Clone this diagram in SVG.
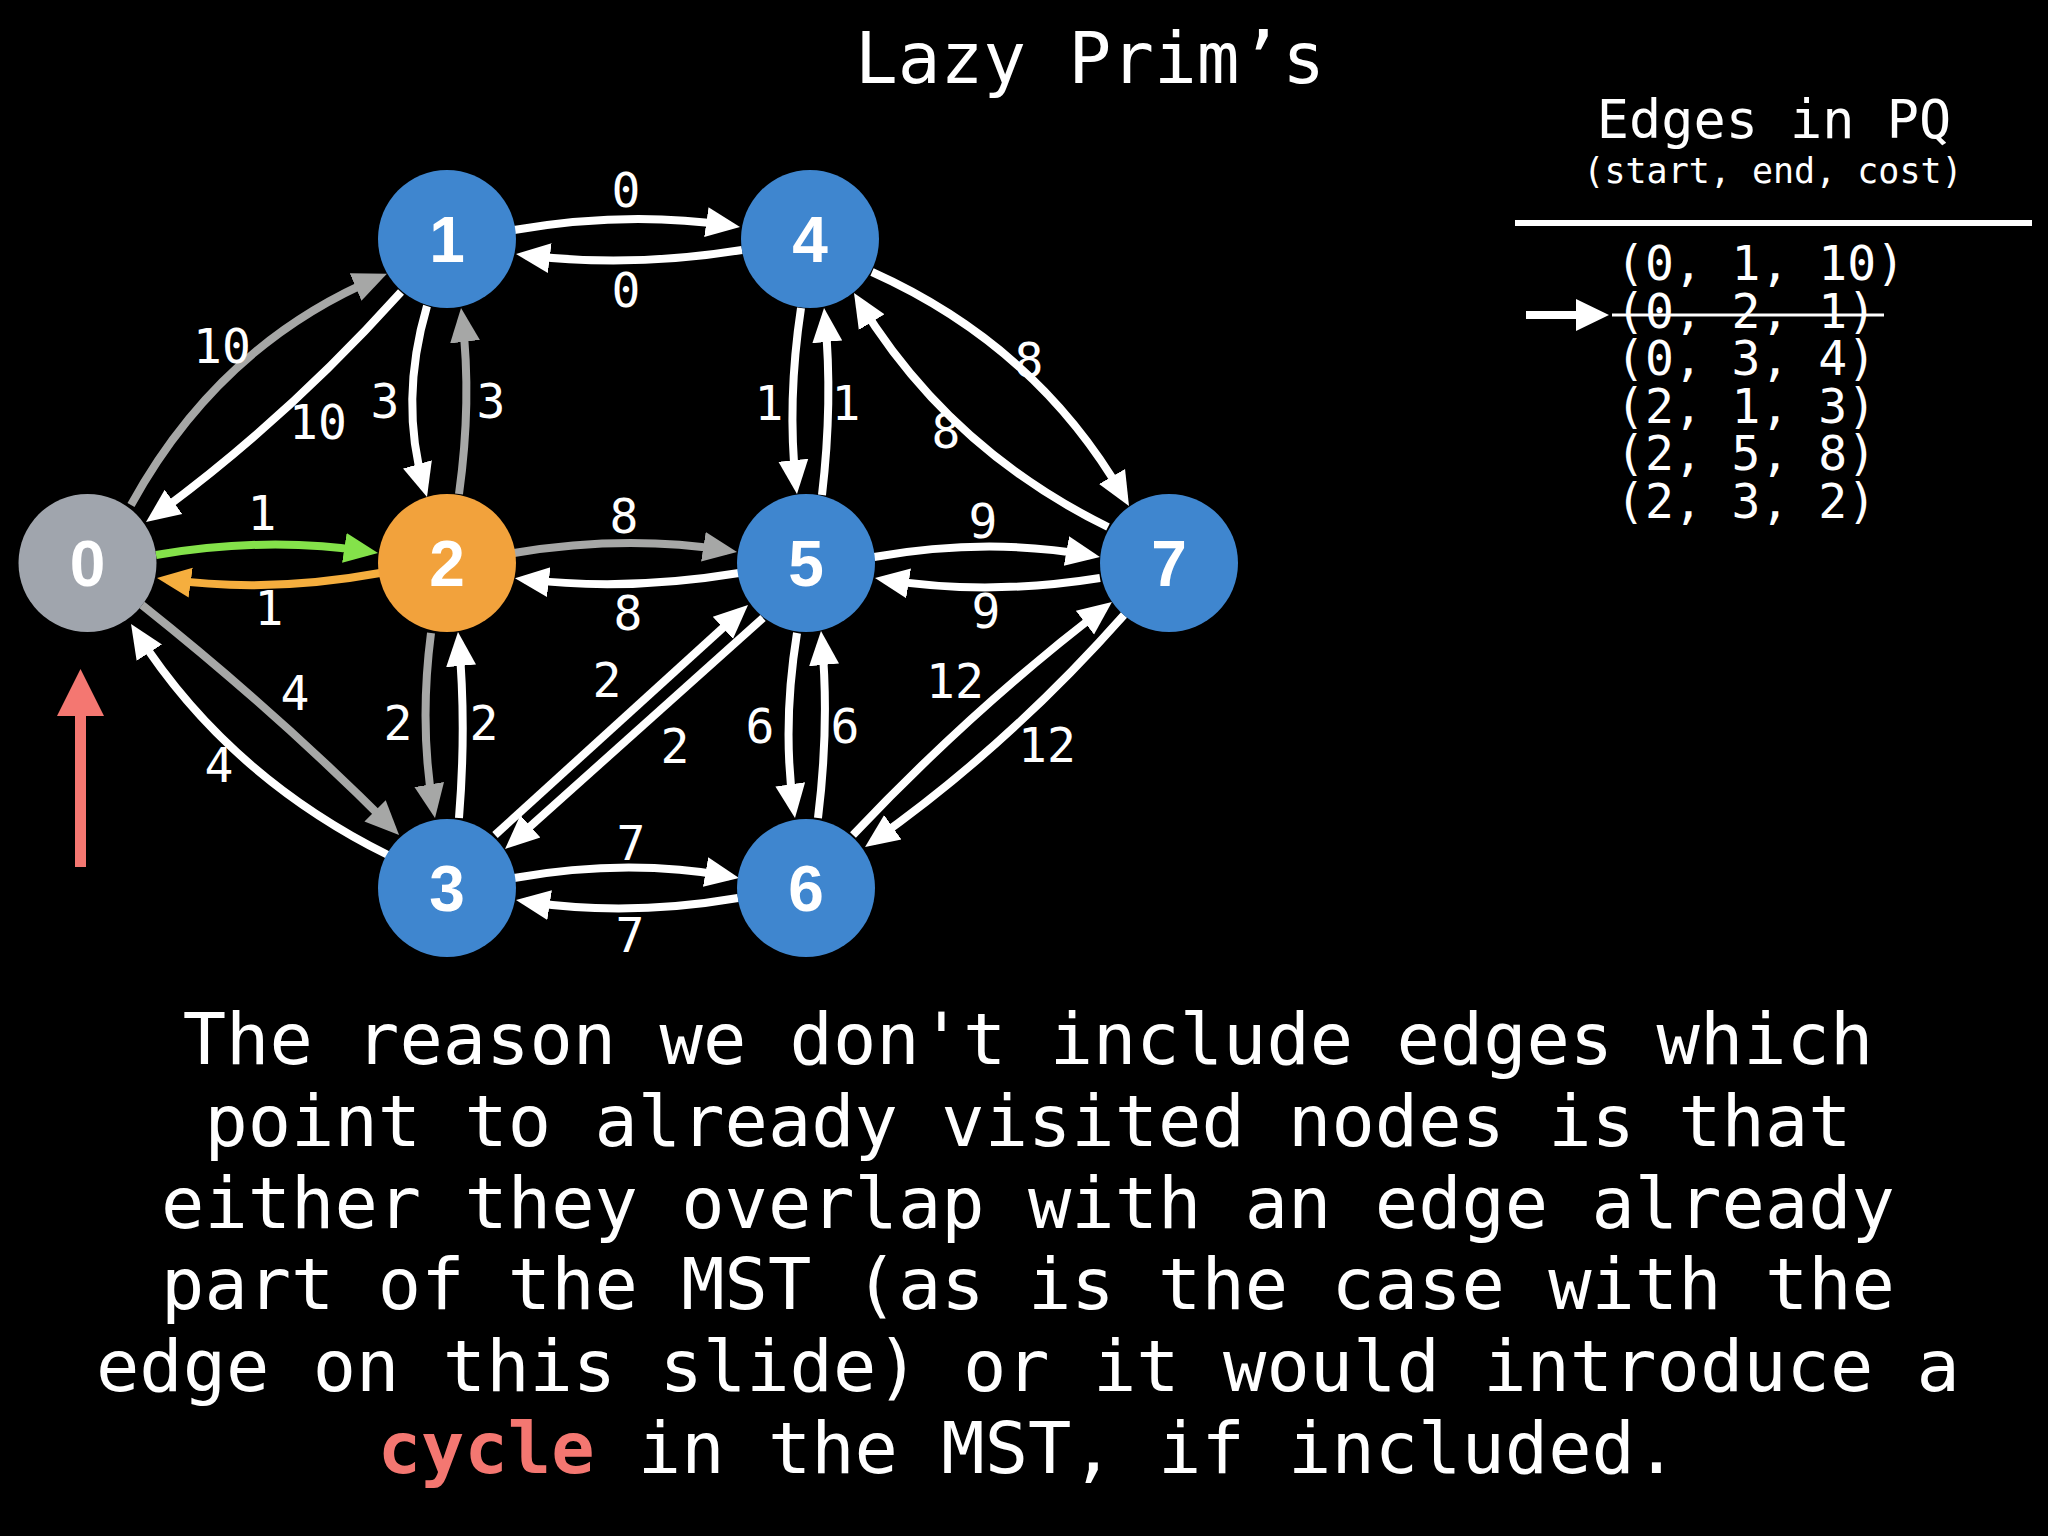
<svg xmlns="http://www.w3.org/2000/svg" width="2048" height="1536" viewBox="0 0 2048 1536">
<defs>
<style>
.e{fill:none;stroke-width:8}
.w{stroke:#FFFFFF}
.g{stroke:#A6A7A6}
.gr{stroke:#84E24A}
.or{stroke:#F5AE3E}
.lbl{font-family:"DejaVu Sans Mono","Liberation Mono",monospace;font-size:48px;fill:#FFFFFF;text-anchor:middle}
.nl{font-family:"Liberation Sans",Arial,sans-serif;font-weight:bold;font-size:64px;fill:#FFFFFF;text-anchor:middle}
.mono{font-family:"DejaVu Sans Mono","Liberation Mono",monospace;fill:#FFFFFF}
</style>
<marker id="aw" markerUnits="userSpaceOnUse" markerWidth="40" markerHeight="36" viewBox="0 0 40 36" refX="24" refY="18" orient="auto"><path d="M0,3 L34,18 L0,33 Z" fill="#FFFFFF"/></marker>
<marker id="ag" markerUnits="userSpaceOnUse" markerWidth="40" markerHeight="36" viewBox="0 0 40 36" refX="24" refY="18" orient="auto"><path d="M0,3 L34,18 L0,33 Z" fill="#A6A7A6"/></marker>
<marker id="agr" markerUnits="userSpaceOnUse" markerWidth="40" markerHeight="36" viewBox="0 0 40 36" refX="24" refY="18" orient="auto"><path d="M0,3 L34,18 L0,33 Z" fill="#84E24A"/></marker>
<marker id="aor" markerUnits="userSpaceOnUse" markerWidth="40" markerHeight="36" viewBox="0 0 40 36" refX="24" refY="18" orient="auto"><path d="M0,3 L34,18 L0,33 Z" fill="#F5AE3E"/></marker>
</defs>
<rect x="0" y="0" width="2048" height="1536" fill="#000000"/>

<text class="mono" x="1090" y="83" font-size="71" text-anchor="middle">Lazy Prim’s</text>

<g id="connectors">
<path id="e0-1" class="e g" d="M131,505 Q218.8,345 377.7,277.7" marker-end="url(#ag)"/>
<path id="e1-0" class="e w" d="M401,292 Q285.5,420.4 154.1,516.1" marker-end="url(#aw)"/>
<path id="e1-2" class="e w" d="M427,306 Q399,401.5 424.2,487.4" marker-end="url(#aw)"/>
<path id="e2-1" class="e g" d="M459,494 Q472,401 462.2,317.9" marker-end="url(#ag)"/>
<path id="e1-4" class="e w" d="M514,230 Q627,210.5 730.1,225.6" marker-end="url(#aw)"/>
<path id="e4-1" class="e w" d="M742,250 Q629,268 525.9,255.2" marker-end="url(#aw)"/>
<path id="e4-5" class="e w" d="M801,308 Q787,401 795.9,484.1" marker-end="url(#aw)"/>
<path id="e5-4" class="e w" d="M822,495 Q833,401.5 825,318" marker-end="url(#aw)"/>
<path id="e4-7" class="e w" d="M872,272 Q1037.1,346.1 1124,497.3" marker-end="url(#aw)"/>
<path id="e7-4" class="e w" d="M1108,527 Q948.7,448.8 859.2,301.6" marker-end="url(#aw)"/>
<path id="e0-2" class="e gr" d="M156,555 Q267,536 368.1,551.5" marker-end="url(#agr)"/>
<path id="e2-0" class="e or" d="M380,573 Q268.5,593.5 166.9,579.4" marker-end="url(#aor)"/>
<path id="e2-5" class="e g" d="M514,553 Q625.5,534.5 727.1,550.5" marker-end="url(#ag)"/>
<path id="e5-2" class="e w" d="M739,573 Q627,591.5 524.9,579.4" marker-end="url(#aw)"/>
<path id="e5-7" class="e w" d="M874,557 Q987,537 1090.1,555.3" marker-end="url(#aw)"/>
<path id="e7-5" class="e w" d="M1100,578 Q987.5,596 884.9,579.6" marker-end="url(#aw)"/>
<path id="e0-3" class="e g" d="M142,605 Q277.2,712.6 392,827.9" marker-end="url(#ag)"/>
<path id="e3-0" class="e w" d="M388,855 Q227.5,775.3 136.4,632.4" marker-end="url(#aw)"/>
<path id="e2-3" class="e g" d="M431,633 Q419,725.5 433.3,808.2" marker-end="url(#ag)"/>
<path id="e3-2" class="e w" d="M459,818 Q466.5,725 458.9,642" marker-end="url(#aw)"/>
<path id="e3-5" class="e w" d="M495,835 L740.6,611.7" marker-end="url(#aw)"/>
<path id="e5-3" class="e w" d="M763,618 L512.5,842.3" marker-end="url(#aw)"/>
<path id="e5-6" class="e w" d="M797,633 Q782,725.5 793.6,808.1" marker-end="url(#aw)"/>
<path id="e6-5" class="e w" d="M818,818 Q829.5,724.5 821.9,641" marker-end="url(#aw)"/>
<path id="e3-6" class="e w" d="M514,878 Q626.5,858 729.2,876.3" marker-end="url(#aw)"/>
<path id="e6-3" class="e w" d="M738,898 Q627,917 525.9,901.5" marker-end="url(#aw)"/>
<path id="e6-7" class="e w" d="M853,835 Q973.1,708.1 1104,608.1" marker-end="url(#aw)"/>
<path id="e7-6" class="e w" d="M1124,615 Q1007.9,746 873.2,841.2" marker-end="url(#aw)"/>
</g>

<g id="edge-labels">
<text class="lbl" x="222" y="363">10</text>
<text class="lbl" x="318" y="439">10</text>
<text class="lbl" x="385" y="418">3</text>
<text class="lbl" x="491" y="418">3</text>
<text class="lbl" x="626" y="207">0</text>
<text class="lbl" x="626" y="307">0</text>
<text class="lbl" x="769" y="420">1</text>
<text class="lbl" x="846" y="420">1</text>
<text class="lbl" x="1029" y="377">8</text>
<text class="lbl" x="946" y="448">8</text>
<text class="lbl" x="262" y="530">1</text>
<text class="lbl" x="269" y="625">1</text>
<text class="lbl" x="624" y="533">8</text>
<text class="lbl" x="628" y="630">8</text>
<text class="lbl" x="983" y="538">9</text>
<text class="lbl" x="986" y="628">9</text>
<text class="lbl" x="295" y="710">4</text>
<text class="lbl" x="219" y="782">4</text>
<text class="lbl" x="398" y="740">2</text>
<text class="lbl" x="484" y="740">2</text>
<text class="lbl" x="607" y="697">2</text>
<text class="lbl" x="675" y="763">2</text>
<text class="lbl" x="760" y="743">6</text>
<text class="lbl" x="845" y="743">6</text>
<text class="lbl" x="955" y="698">12</text>
<text class="lbl" x="1047" y="762">12</text>
<text class="lbl" x="631" y="860">7</text>
<text class="lbl" x="630" y="952">7</text>
</g>

<g id="node0"><circle cx="87.5" cy="563" r="69" fill="#A0A5AD"/><text class="nl" x="87.5" y="586">0</text></g>
<g id="node1"><circle cx="447" cy="239" r="69" fill="#3F86CF"/><text class="nl" x="447" y="262">1</text></g>
<g id="node2"><circle cx="447" cy="563" r="69" fill="#F2A23C"/><text class="nl" x="447" y="586">2</text></g>
<g id="node3"><circle cx="447" cy="888" r="69" fill="#3F86CF"/><text class="nl" x="447" y="911">3</text></g>
<g id="node4"><circle cx="810" cy="239" r="69" fill="#3F86CF"/><text class="nl" x="810" y="262">4</text></g>
<g id="node5"><circle cx="806" cy="563" r="69" fill="#3F86CF"/><text class="nl" x="806" y="586">5</text></g>
<g id="node6"><circle cx="806" cy="888" r="69" fill="#3F86CF"/><text class="nl" x="806" y="911">6</text></g>
<g id="node7"><circle cx="1169" cy="563" r="69" fill="#3F86CF"/><text class="nl" x="1169" y="586">7</text></g>

<g id="pointer-red">
<rect x="75" y="714" width="11" height="153" fill="#F47771"/>
<polygon points="57,716 104,716 80.5,669" fill="#F47771"/>
</g>

<g id="pq">
<text class="mono" x="1774" y="138" font-size="53.5" text-anchor="middle">Edges in PQ</text>
<text class="mono" x="1773" y="183" font-size="35" text-anchor="middle">(start, end, cost)</text>
<rect x="1515" y="220" width="517" height="6" fill="#FFFFFF"/>
<text class="mono" font-size="48" x="1616" y="280">(0, 1, 10)</text>
<text class="mono" font-size="48" x="1616" y="328">(0, 2, 1)</text>
<text class="mono" font-size="48" x="1616" y="375">(0, 3, 4)</text>
<text class="mono" font-size="48" x="1616" y="423">(2, 1, 3)</text>
<text class="mono" font-size="48" x="1616" y="470">(2, 5, 8)</text>
<text class="mono" font-size="48" x="1616" y="518">(2, 3, 2)</text>
<rect x="1612" y="313.5" width="272" height="3" fill="#FFFFFF"/>
<rect x="1526" y="311" width="52" height="8" fill="#FFFFFF"/>
<polygon points="1576,299 1576,331 1609,315" fill="#FFFFFF"/>
</g>

<g id="caption" class="mono" font-size="72" text-anchor="middle">
<text x="1028" y="1064">The reason we don't include edges which</text>
<text x="1028" y="1146">point to already visited nodes is that</text>
<text x="1028" y="1228">either they overlap with an edge already</text>
<text x="1028" y="1309">part of the MST (as is the case with the</text>
<text x="1028" y="1391">edge on this slide) or it would introduce a</text>
<text x="1028" y="1473"><tspan fill="#F47771" font-weight="bold">cycle</tspan> in the MST, if included.</text>
</g>
</svg>
